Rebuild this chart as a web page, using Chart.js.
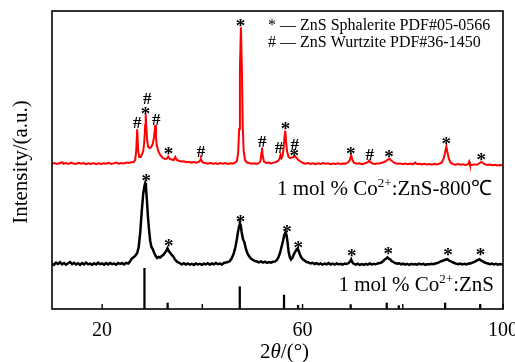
<!DOCTYPE html>
<html><head><meta charset="utf-8">
<script src="https://cdn.jsdelivr.net/npm/chart.js@4.4.0/dist/chart.umd.min.js"></script>
<style>html,body{margin:0;padding:0;background:#fff;}#wrap{width:515px;height:362px;}</style>
</head><body><div id="wrap"><canvas id="c" width="515" height="362"></canvas></div>
<script>
// 2θ (deg), intensity (a.u.) — annealed sample 1 mol % Co2+:ZnS-800℃
const annealed = [[10,145.2],[10.5,146.0],[11,145.0],[11.5,145.8],[12,146.8],[12.3,145.2],[12.8,145.9],[13.3,145.1],[13.8,146.3],[14.3,145.4],[14.8,145.0],[15.3,146.1],[15.8,145.3],[16.3,145.9],[16.8,144.8],[17.3,145.6],[17.8,145.1],[18.3,146.0],[18.8,144.9],[19.3,145.7],[19.8,145.0],[20.3,145.8],[20.8,145.2],[21.3,146.2],[21.8,145.0],[22.3,145.6],[22.8,146.5],[23.3,145.4],[23.8,146.0],[24.3,145.5],[24.8,146.4],[25.3,146.0],[25.8,146.8],[26.3,147.0],[26.6,149],[26.8,158],[27.0,179.7],[27.2,158],[27.4,152],[27.7,152],[28.0,155],[28.2,158],[28.4,166],[28.6,184],[28.7,194.7],[28.85,180],[29.0,168],[29.2,162],[29.5,161],[29.8,162],[30.1,165],[30.3,170],[30.5,178],[30.6,184],[30.75,172],[30.9,164],[31.2,158],[31.6,154],[32.0,151.5],[32.5,150],[32.9,150.5],[33.2,152.5],[33.5,150],[33.9,149.5],[34.3,149],[34.6,152],[34.9,149],[35.3,148.2],[35.8,147.5],[36.3,147.8],[36.8,146.8],[37.3,147.3],[37.8,146.4],[38.3,146.9],[38.8,146.2],[39.3,147],[39.55,148.5],[39.7,150],[39.85,148],[40.1,146.5],[40.6,146],[41.1,145.3],[41.6,146.1],[42.1,145.2],[42.6,145.8],[43.1,145],[43.6,145.9],[44.1,145.3],[44.6,146],[45.1,145.1],[45.6,145.8],[46.1,145.4],[46.6,146.6],[46.9,148],[47.15,156],[47.35,180],[47.5,240],[47.7,281.7],[47.9,238],[48.05,185],[48.25,158],[48.5,149],[48.9,146.5],[49.3,146],[49.8,145.2],[50.3,145.8],[50.8,145.1],[51.3,146],[51.6,148],[51.8,156],[51.9,161.3],[52.05,153],[52.3,147.5],[52.7,146],[53.2,146.5],[53.7,145.6],[54.2,146.4],[54.7,146.9],[55.1,148],[55.4,150],[55.6,154],[55.8,151],[56.0,153],[56.2,160],[56.4,172],[56.55,178.3],[56.7,168],[56.9,158],[57.2,152],[57.5,151],[57.9,151.5],[58.2,152],[58.5,152.8],[58.8,151],[59.2,149],[59.6,147.5],[60.1,146],[60.6,145.3],[61.1,146],[61.6,145.1],[62.1,145.8],[62.6,144.9],[63.1,145.6],[63.6,145],[64.1,145.9],[64.6,145.2],[65.1,145.7],[65.6,144.8],[66.1,145.5],[66.6,145.0],[67.1,145.8],[67.6,145.1],[68.1,145.6],[68.6,145.3],[69.0,146.2],[69.4,148.5],[69.7,153.5],[70.0,148.5],[70.3,146],[70.8,145.2],[71.3,145.8],[71.8,144.9],[72.3,145.5],[72.8,146.2],[73.1,147],[73.3,148.5],[73.6,146.5],[74.0,145.5],[74.5,145],[75.0,145.6],[75.5,145.8],[76.0,146.5],[76.5,147.5],[76.9,149],[77.3,150.2],[77.7,148.5],[78.1,147],[78.5,145.8],[79.0,145.2],[79.5,145.6],[80.0,144.9],[80.5,145.4],[81.0,144.8],[81.5,145.5],[82.0,144.7],[82.5,146.5],[82.8,145],[83.3,145.2],[83.8,144.5],[84.3,145.3],[84.8,144.6],[85.3,145],[85.8,144.4],[86.3,145.1],[86.8,144.6],[87.3,145.3],[87.8,146.5],[88.2,151],[88.5,158],[88.7,162.3],[88.9,157],[89.2,150],[89.6,146],[90.0,145],[90.5,144.4],[91.0,145],[91.5,144.2],[92.0,144.8],[92.5,144.1],[93.0,144.6],[93.25,147.5],[93.4,144.5],[93.8,144],[94.3,144.6],[94.8,144.2],[95.2,145.5],[95.5,146.5],[95.7,147],[96.0,146],[96.4,144.6],[96.9,144],[97.4,144.5],[97.9,143.8],[98.4,144.3],[98.9,143.6],[99.4,144.1],[100,143.7]];

// as-prepared sample 1 mol % Co2+:ZnS
const asPrepared = [[10,45.5],[10.4,44.2],[10.8,46.3],[11.2,45],[11.6,46.8],[12,44.6],[12.4,46],[12.8,44.3],[13.2,45.8],[13.6,47],[14,44.8],[14.4,46.2],[14.8,44.5],[15.2,45.7],[15.6,44.1],[16,45.9],[16.4,44.6],[16.8,46.4],[17.2,44.8],[17.6,45.3],[18,44.2],[18.4,45.8],[18.8,44.5],[19.2,46.3],[19.6,44.8],[20,45.6],[20.4,44.3],[20.8,45.9],[21.2,44.6],[21.6,46.1],[22,44.9],[22.4,45.5],[22.8,44.2],[23.2,46],[23.6,45],[24,45.8],[24.4,44.6],[24.8,46.2],[25.2,45.5],[25.5,47],[25.8,49.7],[26.2,51.5],[26.6,53],[27.0,56],[27.3,62],[27.6,76],[27.9,97],[28.2,115],[28.45,123],[28.6,125.7],[28.75,122],[28.95,108],[29.15,92],[29.35,80],[29.6,68],[29.85,62],[30.1,60],[30.4,56],[30.7,53],[31.0,51],[31.3,52],[31.6,51.5],[31.9,53],[32.2,54],[32.5,56],[32.8,58],[33.05,60.7],[33.3,58],[33.6,56],[33.9,54],[34.2,52.5],[34.6,49],[35.0,47],[35.5,46],[35.9,44.5],[36.3,45.8],[36.7,44.4],[37.1,45.6],[37.5,44.3],[37.9,45.2],[38.3,44],[38.7,45.6],[39.1,44.5],[39.5,45.2],[39.9,44.1],[40.3,45.4],[40.7,44.6],[41.1,45.8],[41.5,44.3],[41.9,45.5],[42.3,44.7],[42.7,46],[43.1,44.8],[43.5,45.4],[43.9,44.5],[44.3,46],[44.7,46.5],[45.1,47],[45.5,48],[45.9,51],[46.3,56],[46.6,62],[46.9,70],[47.15,78],[47.35,83],[47.5,85.7],[47.65,84],[47.85,77],[48.1,70],[48.4,66.5],[48.7,60],[49.0,55.5],[49.3,53],[49.7,50.5],[50.1,49],[50.5,48],[50.9,47.5],[51.3,46.6],[51.7,47.6],[52.1,46.4],[52.5,47.3],[52.9,46.1],[53.3,47],[53.7,46.3],[54.1,47.2],[54.5,47.5],[54.9,49],[55.2,52],[55.5,56],[55.8,62],[56.1,68],[56.35,74],[56.6,76.5],[56.8,74],[57.0,67],[57.2,58],[57.45,52],[57.7,49.5],[57.95,51],[58.2,54],[58.5,57],[58.8,59.5],[59.0,60.5],[59.2,58.5],[59.45,55],[59.7,52],[60.0,50],[60.4,48.5],[60.8,47],[61.2,46.5],[61.6,45.5],[62,46.2],[62.4,45],[62.8,45.9],[63.2,44.6],[63.6,45.6],[64,44.4],[64.4,45.4],[64.8,44.7],[65.2,45.9],[65.6,44.5],[66,45.3],[66.4,44.4],[66.8,45.6],[67.2,44.6],[67.6,45.2],[68,44.3],[68.4,45.5],[68.8,45],[69.2,46],[69.5,47.5],[69.7,49.5],[69.9,47],[70.2,45.2],[70.6,44.4],[71,45.3],[71.4,44.2],[71.8,45],[72.2,44.1],[72.6,45.2],[73,44.4],[73.4,45.5],[73.8,44.6],[74.2,45.1],[74.6,44.8],[75,45.6],[75.4,45.9],[75.8,46.7],[76.1,48],[76.4,49.5],[76.7,50.5],[76.95,51.5],[77.2,50.3],[77.5,49.5],[77.8,47.8],[78.1,47],[78.5,46],[78.9,45.4],[79.3,45.8],[79.7,44.7],[80.1,45.3],[80.5,44.4],[80.9,45.1],[81.3,44.2],[81.7,45.2],[82.1,44.5],[82.5,45],[82.9,44.3],[83.3,45.4],[83.7,44.6],[84.1,45.1],[84.5,44.2],[84.9,45],[85.3,44.5],[85.7,45.3],[86.1,44.8],[86.5,45.5],[86.9,46],[87.3,46.8],[87.7,47.8],[88.1,48.5],[88.5,49.2],[88.9,49.8],[89.2,48.6],[89.5,48],[89.9,46.8],[90.3,46],[90.7,45.2],[91.1,44.7],[91.5,45.4],[91.9,44.5],[92.3,45.2],[92.7,44.6],[93.1,45.4],[93.5,45.6],[93.9,46.4],[94.3,47.2],[94.7,48.3],[95.0,49],[95.3,49.7],[95.6,48.5],[95.9,48],[96.2,46.9],[96.6,46],[97,45.5],[97.4,44.8],[97.8,45.4],[98.2,44.5],[98.6,45.1],[99,44.3],[99.4,45],[100,44.6]];

// ZnS sphalerite reference sticks (PDF#05-0566)
const refSticks = [[28.45,40.7],[33.08,6],[47.47,22.3],[56.3,14],[59.1,3.7],[69.6,4.4],[76.8,6],[79.2,3.4],[88.45,6],[95.45,4.7]];

// peak markers: [2θ, glyph-centre intensity, symbol]
const annealedMarks = [[27.0,186.3,'#'],[28.66,199,'*'],[29.0,210.7,'#'],[30.8,190,'#'],[33.26,158.3,'*'],[39.72,157.3,'#'],[47.6,286.3,'*'],[51.95,167.3,'#'],[55.3,161.3,'#'],[56.6,183.3,'*'],[58.46,164.7,'#'],[58.32,156.3,'*'],[69.6,158.3,'*'],[73.4,155,'#'],[77.26,155.7,'*'],[88.66,168.3,'*'],[95.66,152.3,'*']];
const preparedMarks = [[28.8,131.7,'*'],[33.32,66.3,'*'],[47.6,90.7,'*'],[56.92,80.7,'*'],[59.12,65,'*'],[69.8,56.3,'*'],[77.12,59,'*'],[89.0,57.3,'*'],[95.52,57.3,'*']];

const xTicks = [20,40,60,80,100];
const xTickLabels = ['20','','60','','100'];
const legendLines = ['* \u2014 ZnS Sphalerite PDF#05-0566', '# \u2014 ZnS Wurtzite PDF#36-1450'];

const SERIF = '"Liberation Serif", "Times New Roman", serif';

function drawRich(ctx, parts, rightX, baseY) {
  let w = 0;
  parts.forEach(p => { ctx.font = p.f; w += ctx.measureText(p.t).width; });
  let x = rightX - w;
  parts.forEach(p => {
    ctx.font = p.f;
    ctx.fillText(p.t, x, baseY + (p.dy || 0));
    x += ctx.measureText(p.t).width;
  });
}

const decor = {
  id: 'decor',
  afterDatasetsDraw(chart) {
    const ctx = chart.ctx, a = chart.chartArea;
    const xs = chart.scales.x, ys = chart.scales.y;
    ctx.save();
    ctx.fillStyle = '#000';
    ctx.strokeStyle = '#000';
    // markers
    ctx.textAlign = 'center';
    ctx.textBaseline = 'alphabetic';
    [annealedMarks, preparedMarks].forEach(list => list.forEach(m => {
      const px = xs.getPixelForValue(m[0]);
      const py = ys.getPixelForValue(m[1]);
      if (m[2] === '*') { ctx.font = 'bold 19px ' + SERIF; ctx.fillText('*', px, py + 0.5 * 19); }
      else { ctx.font = 'bold 17px ' + SERIF; ctx.fillText('#', px, py + 0.34 * 17); }
    }));
    // frame
    ctx.lineWidth = 1.6;
    ctx.strokeRect(a.left, a.top, a.right - a.left, a.bottom - a.top);
    // inward ticks
    ctx.lineWidth = 1.4;
    xTicks.forEach(v => {
      const px = xs.getPixelForValue(v);
      ctx.beginPath(); ctx.moveTo(px, a.bottom); ctx.lineTo(px, a.bottom - 5); ctx.stroke();
    });
    // tick labels
    ctx.font = '20px ' + SERIF;
    ctx.textAlign = 'center';
    xTicks.forEach((v, i) => {
      if (xTickLabels[i]) ctx.fillText(xTickLabels[i], xs.getPixelForValue(v), 336);
    });
    // x title
    ctx.textAlign = 'left';
    let x = 260;
    ctx.font = '21px ' + SERIF; ctx.fillText('2', x, 358); x += ctx.measureText('2').width;
    ctx.font = 'italic 21px ' + SERIF; ctx.fillText('\u03B8', x, 358); x += ctx.measureText('\u03B8').width;
    ctx.font = '21px ' + SERIF; ctx.fillText('/(\u00B0)', x, 358);
    // y title
    ctx.save();
    ctx.translate(27, 162);
    ctx.rotate(-Math.PI / 2);
    ctx.textAlign = 'center';
    ctx.font = '21px ' + SERIF;
    ctx.fillText('Intensity/(a.u.)', 0, 0);
    ctx.restore();
    // legend
    ctx.textAlign = 'left';
    ctx.font = '16px ' + SERIF;
    ctx.fillText(legendLines[0], 268, 30);
    ctx.fillText(legendLines[1], 268, 47);
    // sample labels
    const big = '21px ' + SERIF, sup = '13px ' + SERIF;
    drawRich(ctx, [{t:'1 mol % Co', f:big},{t:'2+', f:sup, dy:-8},{t:':ZnS-800\u2103', f:big}], 492, 195);
    drawRich(ctx, [{t:'1 mol % Co', f:big},{t:'2+', f:sup, dy:-8},{t:':ZnS', f:big}], 494, 291);
    ctx.restore();
  }
};

const toXY = arr => arr.map(p => ({x: p[0], y: p[1]}));

new Chart(document.getElementById('c'), {
  type: 'line',
  data: {
    datasets: [
      {type:'line', label:'1 mol % Co2+:ZnS-800℃', data: toXY(annealed), borderColor:'#ff0000', borderWidth:2.0, pointRadius:0, tension:0, order:2},
      {type:'line', label:'1 mol % Co2+:ZnS', data: toXY(asPrepared), borderColor:'#000000', borderWidth:2.5, pointRadius:0, tension:0, order:1},
      {type:'bar', label:'PDF#05-0566', data: toXY(refSticks), backgroundColor:'#000', borderWidth:0, barThickness:1.6, grouped:false, order:3}
    ]
  },
  options: {
    responsive: false,
    animation: false,
    devicePixelRatio: 1,
    layout: {padding: {left: 52, right: 12, top: 11, bottom: 53}},
    scales: {
      x: {type:'linear', min:10, max:100, offset:false, display:false},
      y: {min:0, max:298, display:false}
    },
    plugins: {legend:{display:false}, tooltip:{enabled:false}}
  },
  plugins: [decor]
});
</script>
</body></html>
